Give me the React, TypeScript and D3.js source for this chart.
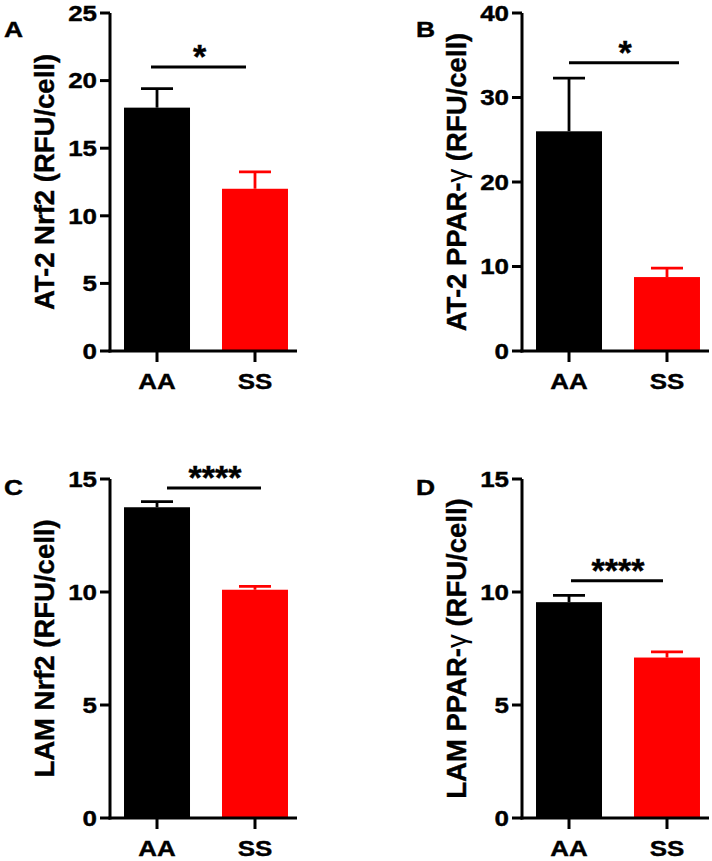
import React from "react";
import * as d3 from "d3";

// groups on the x axis
const categories = ["AA", "SS"];

// one entry per panel: A, B, C, D
const panelLetters = ["A", "B", "C", "D"];
const yLabelMain = ["AT-2 Nrf2 (RFU/cell)", "AT-2 PPAR-", "LAM Nrf2 (RFU/cell)", "LAM PPAR-"];
const yLabelGreek = ["", "γ", "", "γ"];
const yLabelTail = ["", " (RFU/cell)", "", " (RFU/cell)"];
const yMaxValues = [25, 40, 15, 15];
const yTickSteps = [5, 10, 5, 5];

// bar means and SEM (AA, SS)
const meanValues = [
  [18, 12],
  [26, 8.75],
  [13.75, 10.1],
  [9.55, 7.1],
];
const semValues = [
  [1.4, 1.25],
  [6.3, 1.05],
  [0.25, 0.15],
  [0.3, 0.25],
];

// significance brackets
const sigLabels = ["*", "*", "****", "****"];
const sigLevels = [21, 34.1, 14.6, 10.5];

const barColors = ["#000000", "#ff0000"];
const FONT = "'Liberation Sans', Arial, Helvetica, sans-serif";

// panel placement (pixels)
const layout = [
  { left: 110, top: 13, bottom: 351, sigDx: [-6, -9] },
  { left: 522, top: 13, bottom: 351, sigDx: [0, 12] },
  { left: 110, top: 479, bottom: 818, sigDx: [10, 6] },
  { left: 522, top: 479, bottom: 818, sigDx: [2, -4] },
];

// bold text, slightly thickened like the exported figure
const textStyle = {
  fontWeight: "bold" as const,
  fontFamily: FONT,
  fill: "#000",
  stroke: "#000",
  strokeWidth: 0.4,
};

function Panel({ i }: { i: number }) {
  const { left, top, bottom, sigDx } = layout[i];
  const axisW = 187;
  const x = d3
    .scaleBand<string>()
    .domain(categories)
    .range([left, left + 192])
    .paddingInner(0.3265)
    .paddingOuter(0.143);
  const y = d3.scaleLinear().domain([0, yMaxValues[i]]).range([bottom, top]);
  const ticks = d3.range(0, yMaxValues[i] + 0.001, yTickSteps[i]);
  const bw = x.bandwidth();
  const cx = (c: string) => (x(c) as number) + bw / 2;
  const capHalf = 16;
  const sigY = y(sigLevels[i]);
  const sx1 = cx(categories[0]) + sigDx[0];
  const sx2 = cx(categories[1]) + sigDx[1];
  const letterX = left - 106;
  const letterY = top + (i < 2 ? 24 : 16);

  return (
    <g>
      {/* panel letter */}
      <text
        transform={`translate(${letterX},${letterY}) scale(1.2,1)`}
        fontSize={22}
        style={textStyle}
      >
        {panelLetters[i]}
      </text>

      {/* bars */}
      {categories.map((c, j) => (
        <rect
          key={c}
          x={x(c)}
          y={y(meanValues[i][j])}
          width={bw}
          height={y(0) - y(meanValues[i][j])}
          fill={barColors[j]}
        />
      ))}

      {/* error bars, upward only */}
      {categories.map((c, j) => {
        const yTop = y(meanValues[i][j] + semValues[i][j]);
        return (
          <g key={c} stroke={barColors[j]} strokeWidth={2.8}>
            <line x1={cx(c)} x2={cx(c)} y1={y(meanValues[i][j])} y2={yTop} />
            <line x1={cx(c) - capHalf} x2={cx(c) + capHalf} y1={yTop} y2={yTop} />
          </g>
        );
      })}

      {/* y axis */}
      <line x1={left} x2={left} y1={top} y2={bottom + 1.5} stroke="#000" strokeWidth={3} />
      {ticks.map((t) => (
        <g key={t}>
          <line x1={left - 10} x2={left} y1={y(t)} y2={y(t)} stroke="#000" strokeWidth={3} />
          <text
            transform={`translate(${left - 13},${y(t) + 7.8}) scale(1.18,1)`}
            textAnchor="end"
            fontSize={22}
            style={textStyle}
          >
            {t}
          </text>
        </g>
      ))}

      {/* x axis */}
      <line x1={left - 1.5} x2={left + axisW} y1={bottom} y2={bottom} stroke="#000" strokeWidth={3} />
      {categories.map((c) => (
        <g key={c}>
          <line x1={cx(c)} x2={cx(c)} y1={bottom} y2={bottom + 11} stroke="#000" strokeWidth={3} />
          <text
            transform={`translate(${cx(c)},${bottom + 37.5}) scale(1.18,1)`}
            textAnchor="middle"
            fontSize={22}
            style={textStyle}
          >
            {c}
          </text>
        </g>
      ))}

      {/* y label */}
      <text
        transform={`translate(${left - 56},${(top + bottom) / 2}) rotate(-90)`}
        textAnchor="middle"
        fontSize={27.5}
        style={textStyle}
      >
        {yLabelMain[i]}
        {yLabelGreek[i] && (
          <tspan fontWeight="normal" strokeWidth={0}>
            {yLabelGreek[i]}
          </tspan>
        )}
        {yLabelTail[i]}
      </text>

      {/* significance */}
      <line x1={sx1} x2={sx2} y1={sigY} y2={sigY} stroke="#000" strokeWidth={3} />
      <text
        x={(sx1 + sx2) / 2 + 1}
        y={sigY + 1}
        textAnchor="middle"
        fontSize={34}
        style={textStyle}
      >
        {sigLabels[i]}
      </text>
    </g>
  );
}

export default function App() {
  return (
    <svg
      width={712}
      height={861}
      style={{ position: "absolute", left: 0, top: 0, background: "#fff" }}
    >
      <rect width={712} height={861} fill="#fff" />
      {panelLetters.map((_, i) => (
        <Panel key={i} i={i} />
      ))}
    </svg>
  );
}
